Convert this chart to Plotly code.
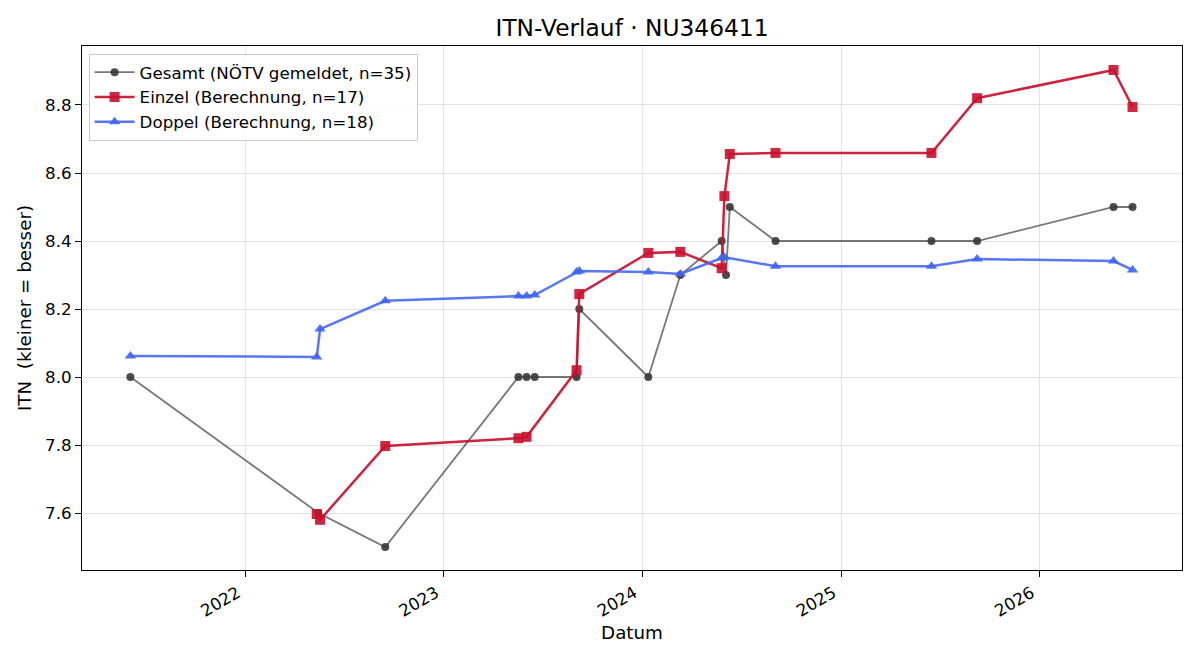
import plotly.graph_objects as go

# Gesamt (NÖTV gemeldet)
ges_dates = ["2021-06-03", "2022-05-15", "2022-09-15", "2023-05-18", "2023-06-02", "2023-06-17",
             "2023-09-02", "2023-09-07", "2024-01-12", "2024-03-11", "2024-05-26", "2024-06-03",
             "2024-06-10", "2024-09-02", "2025-06-16", "2025-09-08", "2026-05-17", "2026-06-21"]
ges_vals = [8.0, 7.6, 7.5, 8.0, 8.0, 8.0, 8.0, 8.2, 8.0, 8.3, 8.4, 8.3, 8.5, 8.4, 8.4, 8.4, 8.5, 8.5]

# Einzel (Berechnung)
ein_dates = ["2022-05-12", "2022-05-18", "2022-09-15", "2023-05-18", "2023-06-02", "2023-09-02",
             "2023-09-07", "2024-01-12", "2024-03-11", "2024-05-26", "2024-05-31", "2024-06-10",
             "2024-09-02", "2025-06-16", "2025-09-08", "2026-05-17", "2026-06-21"]
ein_vals = [7.597, 7.58, 7.797, 7.82, 7.824, 8.02, 8.244, 8.365, 8.368, 8.32, 8.532, 8.656,
            8.659, 8.659, 8.82, 8.903, 8.794]

# Doppel (Berechnung)
dop_dates = ["2021-06-03", "2022-05-12", "2022-05-18", "2022-09-15", "2023-05-18", "2023-06-02",
             "2023-06-17", "2023-09-02", "2023-09-07", "2024-01-12", "2024-03-11", "2024-05-26",
             "2024-05-31", "2024-09-02", "2025-06-16", "2025-09-08", "2026-05-17", "2026-06-21"]
dop_vals = [8.062, 8.059, 8.141, 8.224, 8.238, 8.238, 8.241, 8.309, 8.312, 8.309, 8.303, 8.35,
            8.352, 8.326, 8.326, 8.347, 8.341, 8.315]

year_ticks = ["2022-01-01", "2023-01-01", "2024-01-01", "2025-01-01", "2026-01-01"]
year_labels = ["2022", "2023", "2024", "2025", "2026"]
y_ticks = [7.6, 7.8, 8.0, 8.2, 8.4, 8.6, 8.8]

fig = go.Figure()
fig.add_trace(go.Scatter(
    x=ges_dates, y=ges_vals, mode="lines+markers",
    name="Gesamt (NÖTV gemeldet, n=35)", legendgroup="g",
    line=dict(color="rgba(68,68,68,0.72)", width=1.8),
    marker=dict(symbol="circle", size=8, color="rgba(55,55,55,0.9)"),
))
fig.add_trace(go.Scatter(
    x=ein_dates, y=ein_vals, mode="lines+markers",
    name="Einzel (Berechnung, n=17)", legendgroup="e",
    line=dict(color="rgba(200,16,46,0.92)", width=2.5),
    marker=dict(symbol="square", size=10, color="rgba(200,16,46,0.9)"),
))
fig.add_trace(go.Scatter(
    x=dop_dates, y=dop_vals, mode="lines+markers",
    name="Doppel (Berechnung, n=18)", legendgroup="d",
    line=dict(color="rgba(65,100,240,0.88)", width=2.5),
    marker=dict(symbol="triangle-up", size=10, color="rgba(65,100,240,0.9)"),
))

fig.update_layout(
    width=1200, height=660,
    margin=dict(l=82, r=18, t=46, b=90),
    paper_bgcolor="white", plot_bgcolor="white",
    font=dict(family="DejaVu Sans", size=16.7, color="black"),
    title=dict(text="ITN-Verlauf · NU346411", xref="paper", x=0.5, xanchor="center",
               y=0.958, yanchor="middle", font=dict(size=23.3)),
    legend=dict(x=0.006, y=0.985, xanchor="left", yanchor="top",
                bgcolor="rgba(255,255,255,0.85)", bordercolor="#cccccc", borderwidth=1,
                font=dict(size=16.7), tracegroupgap=0, itemwidth=40),
    showlegend=True,
)
fig.update_xaxes(
    range=["2021-03-06", "2026-09-20"],
    tickvals=year_ticks, ticktext=year_labels, tickangle=-30,
    showgrid=True, gridcolor="#e3e3e3", gridwidth=1,
    showline=True, linecolor="black", linewidth=1, mirror=True,
    ticks="outside", ticklen=6, tickcolor="black",
    tickfont=dict(size=16.7), automargin=False, ticklabelshift=-8,
    title=dict(text="Datum", font=dict(size=18.3), standoff=6),
    zeroline=False,
)
fig.update_yaxes(
    range=[7.4324, 8.9735],
    tickvals=y_ticks, ticktext=[f"{v:.1f}" for v in y_ticks],
    showgrid=True, gridcolor="#e3e3e3", gridwidth=1,
    showline=True, linecolor="black", linewidth=1, mirror=True,
    ticks="outside", ticklen=6, tickcolor="black",
    tickfont=dict(size=16.7), automargin=False,
    title=dict(text="ITN  (kleiner = besser)", font=dict(size=18.3), standoff=8),
    zeroline=False,
)

fig.write_html("out.html")
